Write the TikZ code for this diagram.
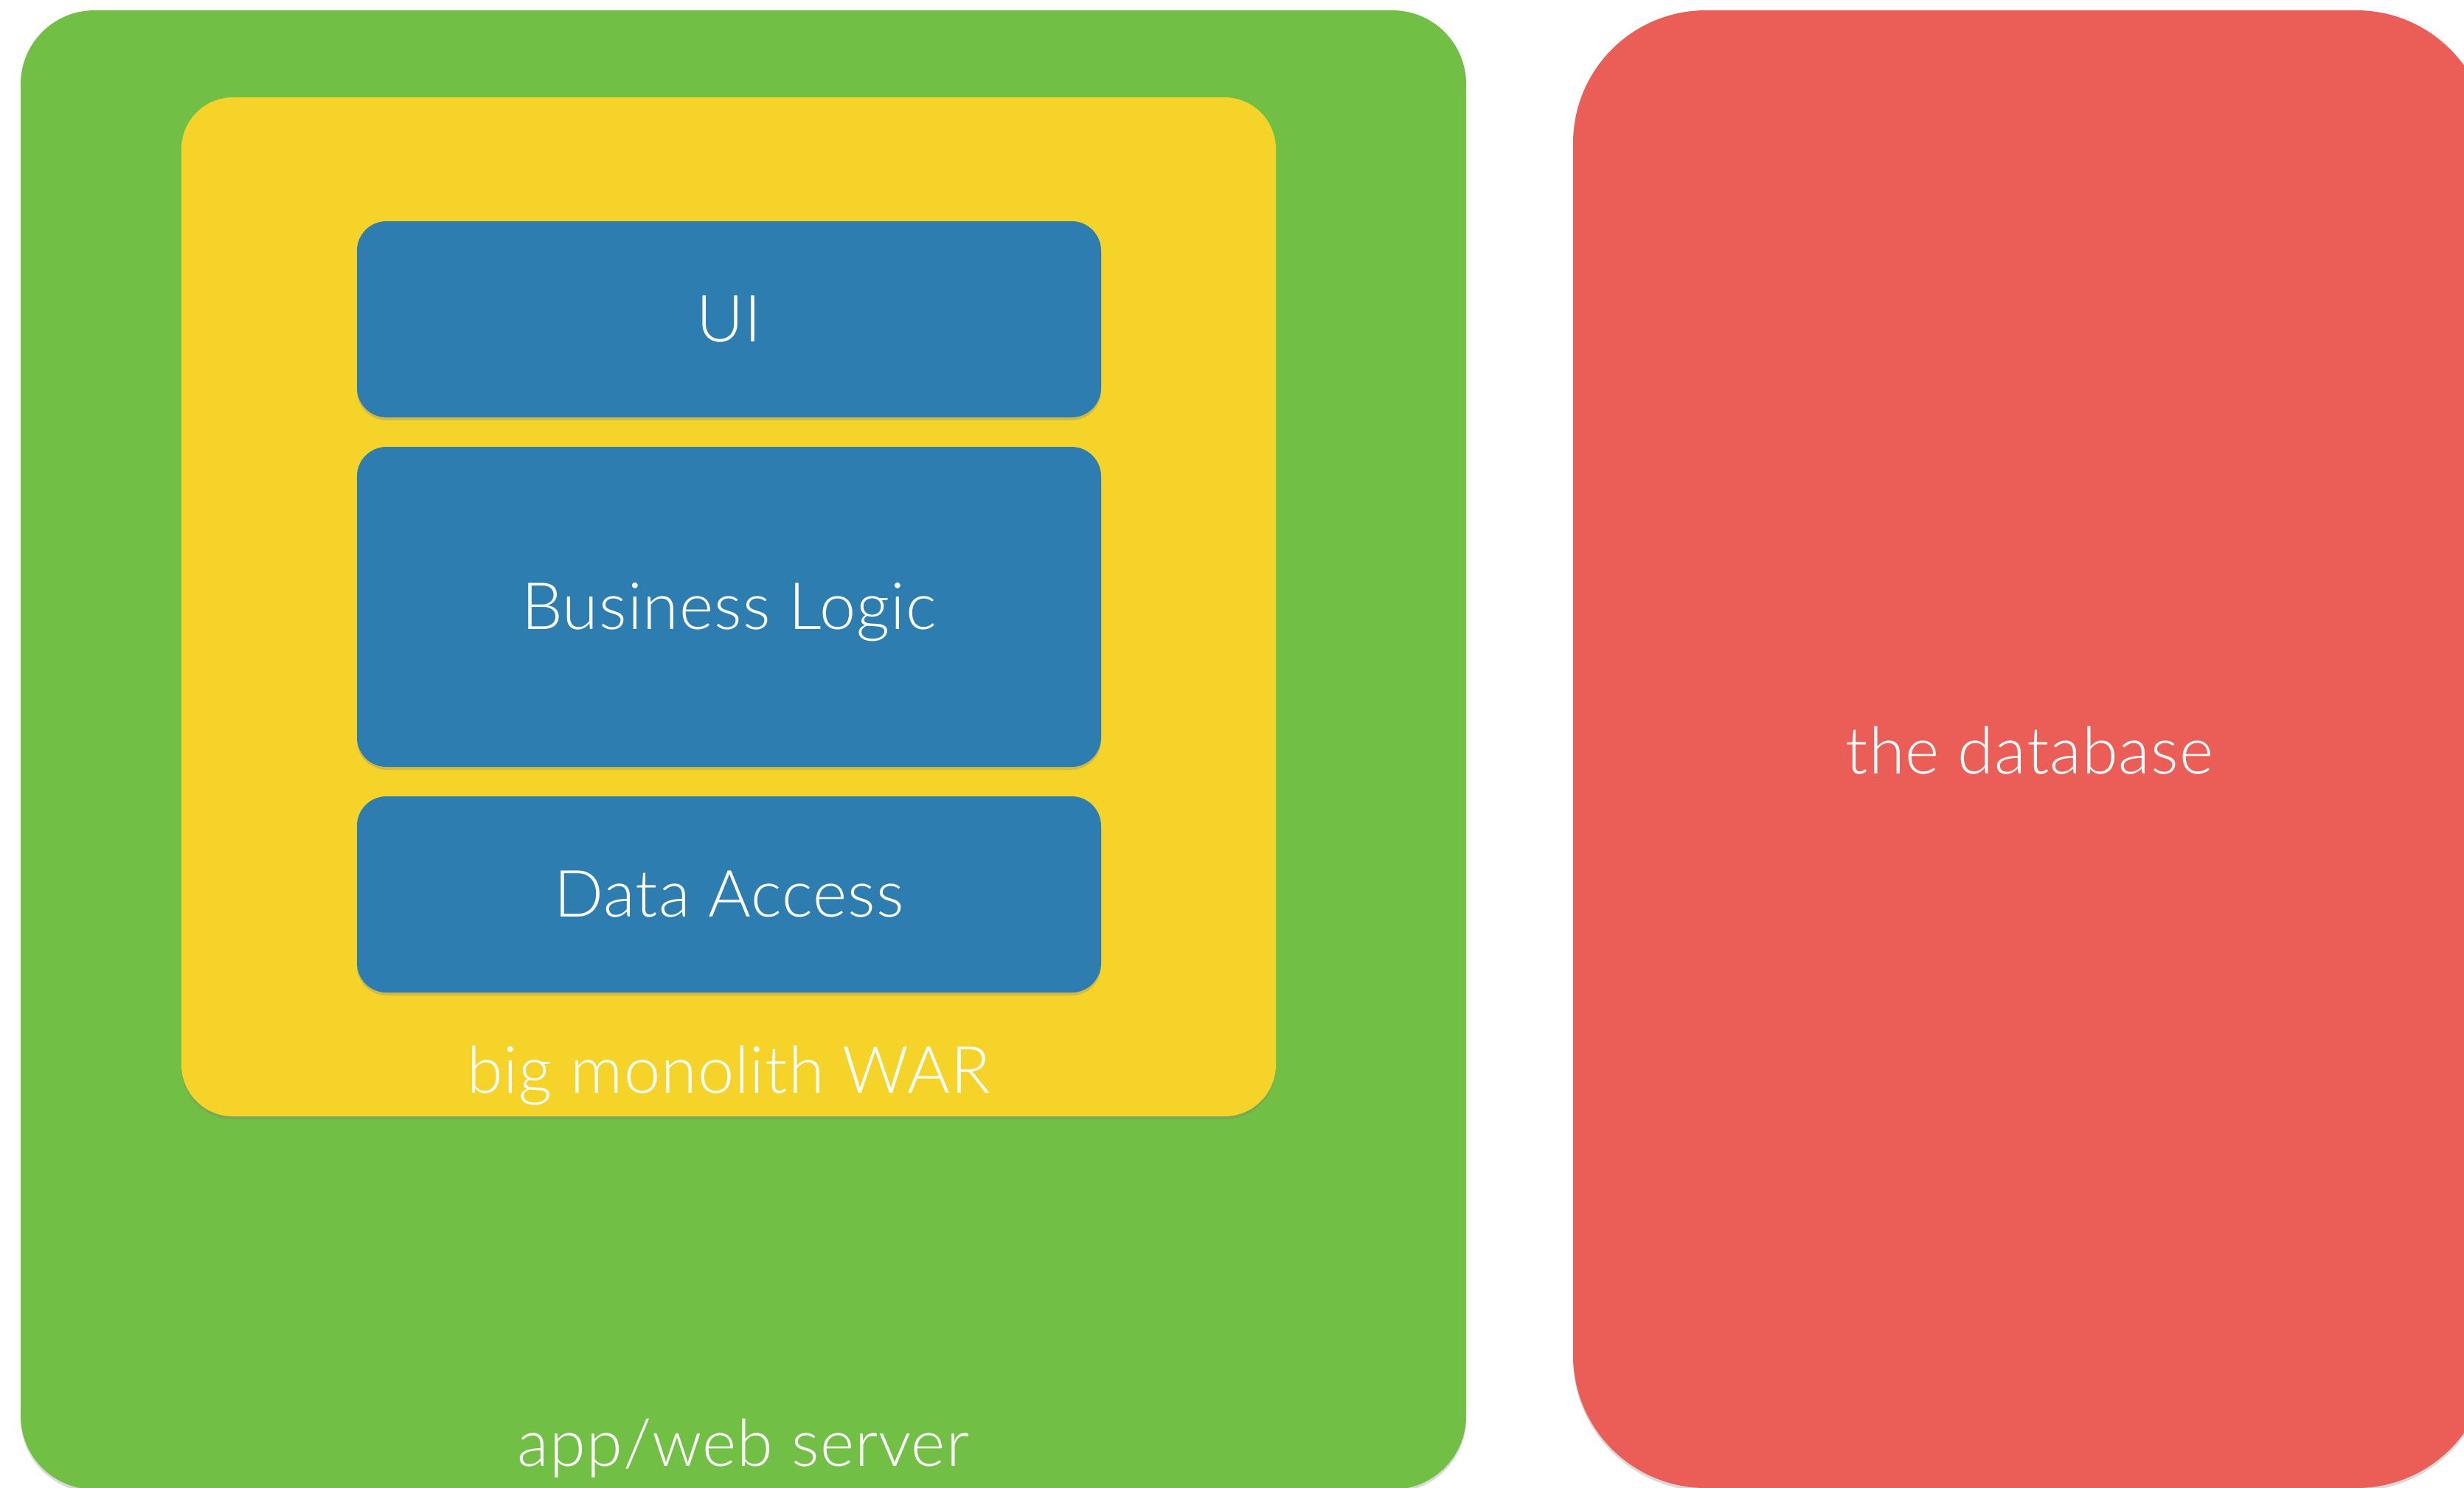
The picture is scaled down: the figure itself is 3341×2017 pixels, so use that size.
\documentclass[tikz,border=0pt]{standalone}
\usepackage{fontspec}
\IfFontExistsTF{Lato Light}{\setmainfont{Lato Light}[LetterSpace=1.2]}{\setmainfont{TeX Gyre Heros}}
\usetikzlibrary{shadows}
\definecolor{srvgreen}{HTML}{71BF44}
\definecolor{waryellow}{HTML}{F5D328}
\definecolor{layerblue}{HTML}{2E7DB0}
\definecolor{dbred}{HTML}{EB5E57}
\begin{document}
\begin{tikzpicture}[x=0.3pt,y=-0.3pt,
  labelfont/.style={text=white, font=\fontsize{26.5}{31}\selectfont},
  box/.style={draw=none, rounded corners=#1, inner sep=0pt,
    drop shadow={shadow xshift=0pt, shadow yshift=-1.2pt, opacity=0.3}},
  layer/.style={box=12pt, fill=layerblue, labelfont, minimum width=302.7pt,
    text height=18.3pt, text depth=0pt},
  lbl/.style={labelfont, inner sep=0pt, anchor=base}]
\useasboundingbox (0,0) rectangle (3341,2017);
\clip (0,0) rectangle (3341,2017);
\node[box=30pt, fill=srvgreen, minimum width=588pt, minimum height=601.8pt] (server) at (1008,1017) {};
\node[lbl] (serverlbl) at (1008,1988) {app/web server};
\node[box=21pt, fill=waryellow, minimum width=445.2pt, minimum height=414.6pt] (war) at (988,823) {};
\node[lbl] (warlbl) at (988,1482) {big monolith WAR};
\node[layer, minimum height=79.8pt] (ui) at (988.5,433) {UI};
\node[layer, minimum height=130.2pt] (bl) at (988.5,823) {Business Logic};
\node[layer, minimum height=79.8pt] (da) at (988.5,1213) {Data Access};
\node[box=54pt, fill=dbred, minimum width=372.6pt, minimum height=601.2pt] (db) at (2754,1016) {};
\node[lbl] (dblbl) at (2752,1049) {the database};
\end{tikzpicture}
\end{document}
